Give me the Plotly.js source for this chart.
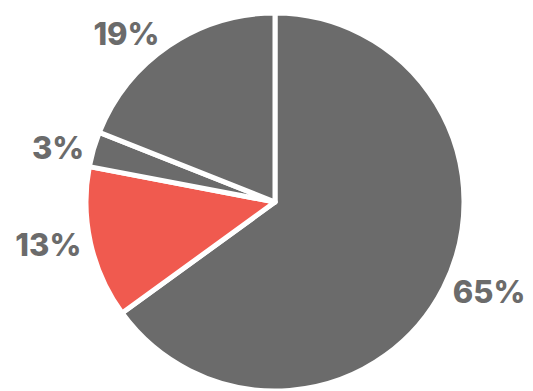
<!DOCTYPE html>
<html>
<head>
<meta charset="utf-8">
<script src="https://cdn.plot.ly/plotly-3.0.1.min.js"></script>
<style>
  html, body { margin: 0; padding: 0; background: #ffffff; }
  #chart { width: 533px; height: 391px; }
</style>
</head>
<body>
<div id="chart"></div>
<script>
// Share of each segment, listed clockwise from 12 o'clock
const segments = ['A', 'B', 'C', 'D'];
const shares = [65, 13, 3, 19];
const labelsText = ['65%', '13%', '3%', '19%'];
const sliceColors = ['#6b6b6b', '#f05a4f', '#6b6b6b', '#6b6b6b'];

const trace = {
  type: 'pie',
  labels: segments,
  values: shares,
  text: labelsText,
  textinfo: 'text',
  textposition: 'outside',
  sort: false,
  direction: 'clockwise',
  rotation: 0,
  hole: 0,
  automargin: false,
  marker: {
    colors: sliceColors,
    line: { color: '#ffffff', width: 5 }
  },
  outsidetextfont: { family: 'Inter, "Open Sans", sans-serif', size: 31, color: '#6b6b6b', weight: 800 },
  showlegend: false
};

const layout = {
  width: 533,
  height: 391,
  margin: { l: 86, r: 69, t: 13, b: 0 },
  paper_bgcolor: '#ffffff',
  plot_bgcolor: '#ffffff',
  showlegend: false
};

Plotly.newPlot('chart', [trace], layout, { staticPlot: true, displayModeBar: false });
</script>
</body>
</html>
